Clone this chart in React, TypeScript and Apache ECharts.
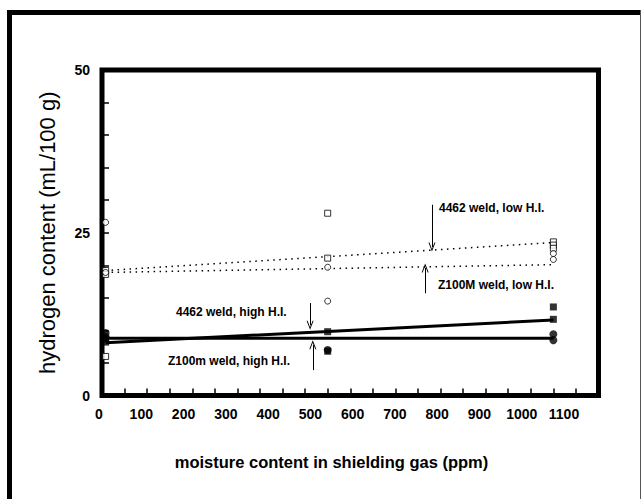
import React, { useEffect, useRef } from "react";
import * as echarts from "echarts";

const FONT = "'Liberation Sans', Arial, Helvetica, sans-serif";

// x tick labels (moisture, ppm) and y tick labels (hydrogen, mL/100 g)
const xLabelValues = [0, 100, 200, 300, 400, 500, 600, 700, 800, 900, 1000, 1100];
const yLabelValues = [0, 25, 50];

// measured points
const weld4462LowHI = [
  [8, 19.2], [8, 18.6], [8, 6.0],
  [500, 28.0], [500, 21.1],
  [1000, 23.6], [1000, 23.1], [1000, 22.6],
];
const z100mLowHI = [
  [8, 26.6], [8, 18.9],
  [500, 19.7], [500, 14.5],
  [1000, 21.8], [1000, 20.9],
];
const weld4462HighHI = [
  [8, 8.7], [8, 8.2],
  [500, 9.8], [500, 6.8],
  [1000, 13.6], [1000, 11.7],
];
const z100mHighHI = [
  [8, 9.6], [8, 9.0],
  [500, 7.0],
  [1000, 9.4], [1000, 8.5],
];

// regression lines
const fit4462Low = [[8, 19.2], [1000, 23.5]];
const fitZ100mLow = [[8, 18.9], [1000, 20.1]];
const fit4462High = [[8, 8.1], [1000, 11.6]];
const fitZ100mHigh = [[8, 8.8], [1000, 8.8]];

// annotation arrows: [x, from y, to y] in data units
const arrow4462Low = [731, 29.3, 22.8];
const arrowZ100mLow = [716, 15.7, 19.6];
const arrow4462High = [461, 14.2, 10.8];
const arrowZ100mHigh = [467, 3.9, 7.8];

const ARROW = "path://M0,10L5,0L10,10L8.6,10L5,2.8L1.4,10Z";

function arrowMark(a: number[]) {
  return {
    silent: true,
    symbol: ["none", ARROW],
    symbolSize: [7, 9],
    lineStyle: { color: "#000", width: 1, type: "solid" },
    label: { show: false },
    emphasis: { disabled: true },
    data: [[{ coord: [a[0], a[1]] }, { coord: [a[0], a[2]] }]],
  };
}

function label(text: string, x: number, y: number) {
  return {
    type: "text",
    x,
    y,
    silent: true,
    style: {
      text,
      fill: "#000",
      font: `bold 12px ${FONT}`,
      align: "left",
      verticalAlign: "middle",
    },
  };
}

function frameLine(x1: number, y1: number, x2: number, y2: number, w: number, c: string) {
  return {
    type: "line",
    silent: true,
    shape: { x1, y1, x2, y2 },
    style: { stroke: c, lineWidth: w },
  };
}

const option: any = {
  animation: false,
  backgroundColor: "#fff",
  grid: [
    {
      left: 102,
      right: 43.5,
      top: 70,
      bottom: 103.5,
      show: true,
      borderColor: "#000",
      borderWidth: 5,
      backgroundColor: "transparent",
    },
    { left: 99, width: 465, top: 70, bottom: 103.5, show: false },
  ],
  xAxis: [
    {
      type: "value",
      gridIndex: 0,
      min: 0,
      max: 1100,
      interval: 50,
      axisLine: { show: false },
      axisTick: { show: true, inside: true, length: 7, lineStyle: { color: "#000", width: 1.5 } },
      axisLabel: { show: false },
      splitLine: { show: false },
    },
    {
      type: "value",
      gridIndex: 1,
      min: 0,
      max: 1100,
      interval: 100,
      axisLine: { show: false },
      axisTick: { show: false },
      splitLine: { show: false },
      axisLabel: {
        show: true,
        margin: 11,
        color: "#000",
        fontFamily: FONT,
        fontWeight: "bold",
        fontSize: 14,
        formatter: (v: number) => (xLabelValues.includes(v) ? String(v) : ""),
      },
      name: "moisture content in shielding gas (ppm)",
      nameLocation: "middle",
      nameGap: 58,
      nameTextStyle: { color: "#000", fontFamily: FONT, fontWeight: "bold", fontSize: 16.5 },
    },
  ],
  yAxis: [
    {
      type: "value",
      gridIndex: 0,
      min: 0,
      max: 50,
      interval: 5,
      axisLine: { show: false },
      axisTick: { show: true, inside: true, length: 7, lineStyle: { color: "#000", width: 1.5 } },
      splitLine: { show: false },
      axisLabel: {
        show: true,
        margin: 12,
        color: "#000",
        fontFamily: FONT,
        fontWeight: "bold",
        fontSize: 14,
        formatter: (v: number) => (yLabelValues.includes(v) ? String(v) : ""),
      },
      name: "hydrogen content (mL/100 g)",
      nameLocation: "middle",
      nameGap: 44,
      nameRotate: 90,
      nameTextStyle: { color: "#000", fontFamily: FONT, fontSize: 22 },
    },
    { type: "value", gridIndex: 1, min: 0, max: 50, show: false },
  ],
  series: [
    {
      type: "line",
      data: fit4462Low,
      symbol: "none",
      silent: true,
      lineStyle: { color: "#000", width: 1.5, type: [1.5, 4.5] },
      markLine: arrowMark(arrow4462Low),
      z: 2,
    },
    {
      type: "line",
      data: fitZ100mLow,
      symbol: "none",
      silent: true,
      lineStyle: { color: "#000", width: 1.5, type: [1.5, 4.5] },
      markLine: arrowMark(arrowZ100mLow),
      z: 2,
    },
    {
      type: "line",
      data: fit4462High,
      symbol: "none",
      silent: true,
      lineStyle: { color: "#000", width: 3 },
      markLine: arrowMark(arrow4462High),
      z: 2,
    },
    {
      type: "line",
      data: fitZ100mHigh,
      symbol: "none",
      silent: true,
      lineStyle: { color: "#000", width: 3 },
      markLine: arrowMark(arrowZ100mHigh),
      z: 2,
    },
    {
      type: "scatter",
      data: weld4462LowHI,
      symbol: "rect",
      symbolSize: 6,
      itemStyle: { color: "#fff", borderColor: "#000", borderWidth: 1 },
      z: 3,
    },
    {
      type: "scatter",
      data: z100mLowHI,
      symbol: "circle",
      symbolSize: 6,
      itemStyle: { color: "#fff", borderColor: "#000", borderWidth: 1 },
      z: 3,
    },
    {
      type: "scatter",
      data: weld4462HighHI,
      symbol: "rect",
      symbolSize: 7,
      itemStyle: { color: "#000" },
      z: 3,
    },
    {
      type: "scatter",
      data: z100mHighHI,
      symbol: "circle",
      symbolSize: 8,
      itemStyle: { color: "#000" },
      z: 3,
    },
  ],
  graphic: [
    frameLine(9.5, 10, 9.5, 499, 5, "#000"),
    frameLine(7, 12.5, 641, 12.5, 5, "#000"),
    frameLine(640.5, 10, 640.5, 499, 1, "#555"),
    label("4462 weld, low H.I.", 439, 208),
    label("Z100M weld, low H.I.", 438, 285),
    label("4462 weld, high H.I.", 176, 312),
    label("Z100m weld, high H.I.", 168, 361),
  ],
};

export default function App() {
  const ref = useRef<HTMLDivElement>(null);
  useEffect(() => {
    const chart = echarts.init(ref.current!, null, { renderer: "svg" });
    chart.setOption(option);
    return () => chart.dispose();
  }, []);
  return (
    <div
      ref={ref}
      style={{ position: "fixed", left: 0, top: 0, width: 642, height: 499, background: "#fff" }}
    />
  );
}
